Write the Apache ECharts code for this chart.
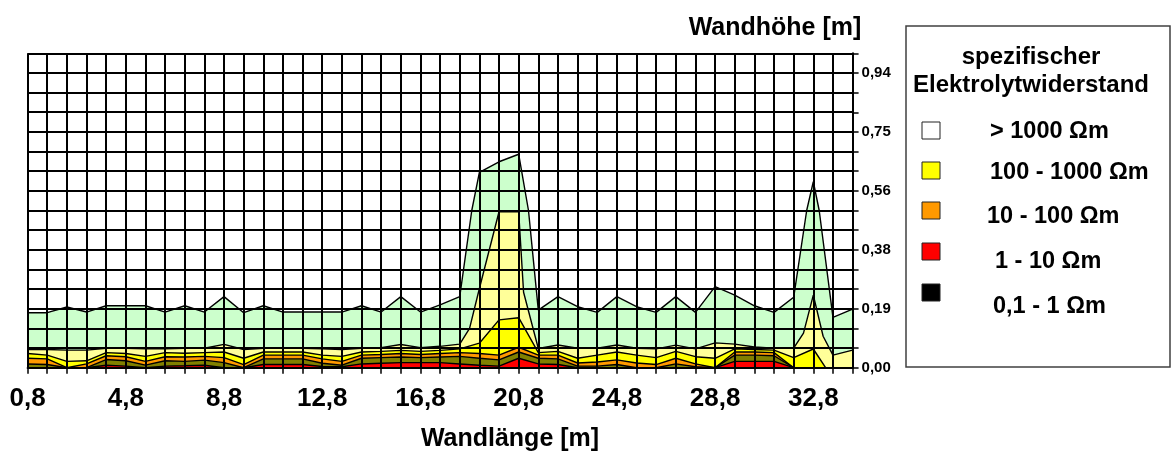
<!DOCTYPE html>
<html>
<head>
<meta charset="utf-8">
<script src="https://cdn.jsdelivr.net/npm/echarts@6/dist/echarts.min.js"></script>
<style>
html,body{margin:0;padding:0;background:#fff;}
#chart{width:1171px;height:452px;}
</style>
</head>
<body>
<div id="chart"></div>
<script>
// Wall length positions (m)
const lengths = [0.8,1.6,2.4,3.2,4.0,4.8,5.6,6.4,7.2,8.0,8.8,9.6,10.4,11.2,12.0,12.8,13.6,14.4,15.2,16.0,16.8,17.6,18.4,19.2,20.0,20.8,21.6,22.4,23.2,24.0,24.8,25.6,26.4,27.2,28.0,28.8,29.6,30.4,31.2,32.0,32.8,33.6,34.4];

// Band boundaries (wall height, m) at each position
const greenTop = [0.175,0.175,0.193,0.177,0.197,0.197,0.197,0.177,0.197,0.177,0.226,0.175,0.197,0.177,0.177,0.177,0.177,0.197,0.177,0.226,0.177,0.200,0.226,0.621,0.655,0.679,0.183,0.226,0.194,0.176,0.226,0.194,0.176,0.226,0.176,0.258,0.231,0.197,0.176,0.224,0.592,0.160,0.186];
const greenTopExtra = [[18.89,0.50],[21.2,0.50],[32.53,0.50],[33.04,0.50]];

const paleTop = [0.058,0.058,0.056,0.056,0.062,0.062,0.060,0.060,0.062,0.062,0.074,0.058,0.062,0.062,0.062,0.060,0.058,0.062,0.064,0.074,0.064,0.068,0.075,0.252,0.496,0.496,0.061,0.072,0.062,0.062,0.072,0.062,0.060,0.072,0.060,0.079,0.075,0.066,0.062,0.062,0.231,0.040,0.056];
const paleTopExtra = [[18.8,0.125],[21.0,0.24],[32.4,0.11],[33.2,0.10]];

const yellowTop = [0.045,0.040,0.020,0.022,0.048,0.045,0.036,0.048,0.046,0.048,0.050,0.030,0.050,0.050,0.050,0.040,0.036,0.050,0.052,0.055,0.052,0.055,0.060,0.078,0.152,0.159,0.048,0.052,0.030,0.040,0.050,0.040,0.032,0.052,0.035,0.030,0.060,0.058,0.056,0.032,0.0595,0,0];
const yellowTopExtra = [[33.3,0]];

const orangeTop = [0.030,0.028,0,0.012,0.038,0.035,0.020,0.035,0.034,0.036,0.032,0.010,0.040,0.040,0.040,0.028,0.020,0.040,0.042,0.045,0.042,0.045,0.048,0.045,0.040,0.065,0.040,0.040,0.015,0.018,0.025,0.015,0.010,0.030,0.012,0,0.050,0.050,0.048,0,0,0,0];
const oliveTop = [0.012,0.010,0,0,0.026,0.022,0.008,0.022,0.020,0.024,0.016,0,0.028,0.028,0.028,0.014,0.008,0.030,0.032,0.034,0.032,0.034,0.036,0.030,0.025,0.050,0.030,0.028,0.005,0.005,0.010,0,0,0.012,0.003,0,0.040,0.040,0.038,0,0,0,0];
const redTop = [0,0,0,0,0.008,0.005,0,0.005,0.006,0.008,0,0,0.010,0.010,0.010,0.004,0.003,0.012,0.014,0.016,0.016,0.016,0.012,0.008,0.005,0.030,0.012,0.010,0,0,0,0,0,0,0,0,0.020,0.020,0.020,0,0,0,0];

const legendItems = ['> 1000 \u03A9m','100 - 1000 \u03A9m','10 - 100 \u03A9m','1 - 10 \u03A9m','0,1 - 1 \u03A9m'];
const legendColors = ['#FFFFFF','#FFFF00','#FF9900','#FF0000','#000000'];

function merge(vals, extra) {
  const pts = vals.map((v, i) => [lengths[i], v]);
  (extra || []).forEach(p => pts.push(p));
  pts.sort((a, b) => a[0] - b[0]);
  return pts;
}

const FONT = '"Liberation Sans", Arial, sans-serif';
const bands = [
  {data: merge(greenTop, greenTopExtra), color: '#CCFFCC'},
  {data: merge(paleTop, paleTopExtra), color: '#FFFF99'},
  {data: merge(yellowTop, yellowTopExtra), color: '#FFFF00'},
  {data: merge(orangeTop), color: '#FF9900'},
  {data: merge(oliveTop), color: '#808000'},
  {data: merge(redTop), color: '#FF0000'}
];

const series = bands.map(b => ({
  type: 'line',
  data: b.data,
  symbol: 'none',
  silent: true,
  lineStyle: {color: '#000', width: 1.4},
  areaStyle: {color: b.color, opacity: 1},
  z: 2
}));

const legendGraphics = [];
legendGraphics.push({type: 'rect', shape: {x: 906, y: 26, width: 264, height: 341}, style: {fill: '#fff', stroke: '#404040', lineWidth: 1.5}});
legendGraphics.push({type: 'text', style: {x: 1031, y: 57, text: 'spezifischer', font: 'bold 24px ' + FONT, fill: '#000', textAlign: 'center', textVerticalAlign: 'middle'}});
legendGraphics.push({type: 'text', style: {x: 1031, y: 85, text: 'Elektrolytwiderstand', font: 'bold 24px ' + FONT, fill: '#000', textAlign: 'center', textVerticalAlign: 'middle'}});
const boxY = [122, 162, 202, 243, 284];
const textX = [990, 990, 987, 995, 993];
const textY = [132, 173, 217, 262, 307];
legendItems.forEach((t, i) => {
  legendGraphics.push({type: 'rect', shape: {x: 922, y: boxY[i], width: 18, height: 17}, style: {fill: legendColors[i], stroke: '#222', lineWidth: 1}});
  legendGraphics.push({type: 'text', style: {x: textX[i], y: textY[i], text: t, font: 'bold 23.5px ' + FONT, fill: '#000', textAlign: 'left', textVerticalAlign: 'middle'}});
});
legendGraphics.push({type: 'text', style: {x: 775, y: 28, text: 'Wandh\u00F6he [m]', font: 'bold 25px ' + FONT, fill: '#000', textAlign: 'center', textVerticalAlign: 'middle'}});
legendGraphics.push({type: 'text', style: {x: 510, y: 439, text: 'Wandl\u00E4nge [m]', font: 'bold 25px ' + FONT, fill: '#000', textAlign: 'center', textVerticalAlign: 'middle'}});

const chart = echarts.init(document.getElementById('chart'), null, {renderer: 'canvas'});
chart.setOption({
  animation: false,
  backgroundColor: '#fff',
  grid: {left: 27.6, top: 53.3, width: 825, height: 314.4, containLabel: false},
  xAxis: {
    type: 'value', min: 0.8, max: 34.4, interval: 0.8, z: 10,
    axisLine: {show: true, lineStyle: {color: '#000', width: 2}},
    axisTick: {show: true, length: 6, inside: false, lineStyle: {color: '#000', width: 1.5}},
    splitLine: {show: true, lineStyle: {color: '#000', width: 2}},
    axisLabel: {
      show: true, margin: 18, color: '#000', fontSize: 26, fontWeight: 'bold', fontFamily: FONT,
      showMinLabel: true, showMaxLabel: true,
      formatter: function (v) {
        const k = Math.round((v - 0.8) / 0.8);
        return (k % 5 === 0) ? v.toFixed(1).replace('.', ',') : '';
      }
    }
  },
  yAxis: {
    type: 'value', position: 'right', min: 0, max: 1, interval: 0.0625, z: 10,
    axisLine: {show: true, lineStyle: {color: '#000', width: 2}},
    axisTick: {show: true, length: 6, inside: false, lineStyle: {color: '#000', width: 1.5}},
    splitLine: {show: true, lineStyle: {color: '#000', width: 2}},
    axisLabel: {
      show: true, margin: 9, color: '#000', fontSize: 15, fontWeight: 'bold', fontFamily: FONT,
      showMinLabel: true, showMaxLabel: true,
      formatter: function (v) {
        const k = Math.round(v / 0.0625);
        return (k % 3 === 0 && k < 16) ? v.toFixed(2).replace('.', ',') : '';
      }
    }
  },
  series: series,
  graphic: legendGraphics
});
</script>
</body>
</html>
